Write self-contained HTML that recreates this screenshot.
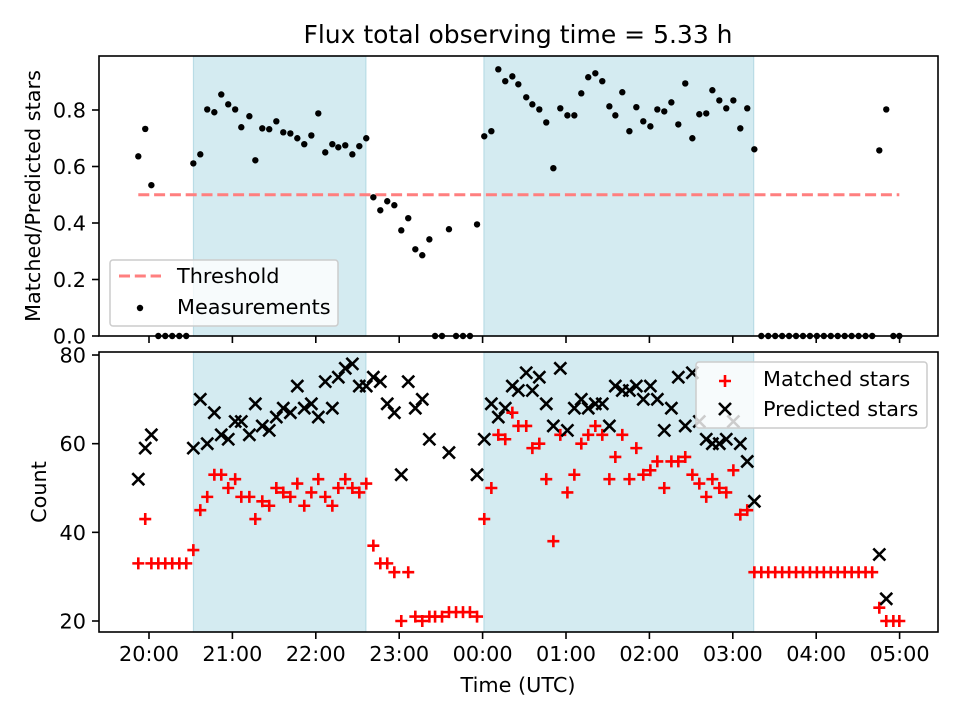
<!DOCTYPE html>
<html><head><meta charset="utf-8"><style>
body{margin:0;background:#fff;}
svg{font-family:"DejaVu Sans","Liberation Sans",sans-serif;display:block}
</style></head><body>
<svg id="chart" width="960" height="720" viewBox="0 0 960 720">
<rect width="960" height="720" fill="#fff"/>
<text x="518" y="43" text-anchor="middle" font-size="25">Flux total observing time = 5.33 h</text>
<g id="gtop"></g>
<g id="gbot"></g>
<text x="518" y="692" text-anchor="middle" font-size="20.8">Time (UTC)</text>
<text transform="translate(40,196) rotate(-90)" text-anchor="middle" font-size="20.8">Matched/Predicted stars</text>
<text transform="translate(46,492) rotate(-90)" text-anchor="middle" font-size="20.8">Count</text>
<g font-size="20.8">
<rect x="110" y="260" width="228" height="66" rx="3" fill="#fff" fill-opacity="0.8" stroke="#ccc" stroke-width="1.5"/>
<line x1="119" x2="161" y1="276" y2="276" stroke="#ff7f7f" stroke-width="3" stroke-dasharray="11,4.8"/>
<text x="177" y="283">Threshold</text>
<circle cx="140" cy="308" r="3.2" fill="#000"/>
<text x="177" y="314">Measurements</text>
</g>
<g font-size="20.8">
<rect x="696" y="362" width="231" height="66" rx="3" fill="#fff" fill-opacity="0.8" stroke="#ccc" stroke-width="1.5"/>
<path d="M719,381H731M725,375V387" stroke="#f00" stroke-width="2.6"/>
<text x="763" y="386">Matched stars</text>
<path d="M719,403L731,415M719,415L731,403" stroke="#000" stroke-width="2.6"/>
<text x="763" y="416">Predicted stars</text>
</g>
</svg>
<script>
// minutes after 20:00 UTC
const times=[-7.7,-2.7,1.7,6.7,11.7,16.7,21.8,26.8,31.9,36.9,41.9,47,52,57,62,66.4,72.2,76.5,81.5,86.5,91.6,96.6,101.7,106.7,111.7,116.8,121.8,126.8,131.9,136.2,141.2,146.3,151.3,156.3,161.4,166.4,171.4,176.5,181.5,186.5,191.6,196.6,201.7,205.8,210.8,215.8,220.9,225.9,230.9,236,241.2,246.3,251.3,256.3,261.4,265.7,271.4,275.8,280.8,285.8,290.9,295.9,301,306,311,316,321.1,326.1,331.2,335.5,340.5,345.6,350.6,355.6,360.7,365.7,370.7,375.8,380.8,385.8,390.9,395.9,400.9,405.3,410.3,415.3,420.4,425.4,430.4,435.5,440.5,445.5,450.5,455.5,460.5,465.5,470.5,475.5,480.5,485.5,490.5,495.5,500.5,505.5,510.5,515.5,520.3,525.4,530.4,535.5,539.8];
const ratio=[.636,.733,.534,0,0,0,0,0,.611,.643,.802,.792,.855,.820,.802,.739,.778,.622,.735,.732,.760,.721,.717,.700,.679,.710,.788,.650,.679,.668,.675,.643,.672,.700,.491,.445,.477,.463,.374,.417,.307,.286,.342,0,0,.378,0,0,0,.395,.707,.725,.944,.902,.919,.891,.845,.820,.802,.756,.594,.806,.781,.781,.859,.916,.930,.902,.813,.781,.863,.725,.810,.760,.742,.802,.795,.827,.749,.894,.700,.785,.788,.870,.834,.806,.834,.735,.806,.661,0,0,0,0,0,0,0,0,0,0,0,0,0,0,0,0,0,.657,.802,0,0];
const matched=[33,43,33,33,33,33,33,33,36,45,48,53,53,50,52,48,48,43,47,46,50,49,48,51,46,49,52,48,46,50,52,50,49,51,37,33,33,31,20,31,21,20,21,21,21,22,22,22,22,21,43,50,62,61,67,64,64,59,60,52,38,62,49,53,60,62,64,62,52,57,62,52,59,53,54,56,50,56,56,57,53,51,48,52,50,49,54,44,45,31,31,31,31,31,31,31,31,31,31,31,31,31,31,31,31,31,31,23,20,20,20];
const predicted=[52,59,62,null,null,null,null,null,59,70,60,67,62,61,65,65,62,69,64,63,66,68,67,73,68,69,66,74,68,75,77,78,73,73,75,74,69,67,53,74,68,70,61,null,null,58,null,null,null,53,61,69,66,68,73,72,76,72,75,69,64,77,63,68,70,68,69,69,64,73,72,72,73,70,73,70,63,68,75,64,76,65,61,60,60,61,65,60,56,47,null,null,null,null,null,null,null,null,null,null,null,null,null,null,null,null,null,35,25,null,null];
const threshold=0.5;
const spans=[[32,156],[241,435]];
const xTickLabels=["20:00","21:00","22:00","23:00","00:00","01:00","02:00","03:00","04:00","05:00"];
const topTicks=[0,0.2,0.4,0.6,0.8];
const botTicks=[20,40,60,80];

const NS="http://www.w3.org/2000/svg";
const X=t=>149+t/60*83.4;
const L=99,R=938;
const T1=56,B1=336,T2=352,B2=632;
const Y1=v=>336-v*282.5;
const Y2=c=>621-(c-20)*4.433;
function mk(p,tag,a){const e=document.createElementNS(NS,tag);for(const k in a)e.setAttribute(k,a[k]);p.appendChild(e);return e;}
const gTop=document.getElementById('gtop'),gBot=document.getElementById('gbot');

[[gTop,T1,B1],[gBot,T2,B2]].forEach(([g,t,b])=>{
  spans.forEach(s=>{
    const r=mk(g,'rect',{x:X(s[0]),y:t,width:X(s[1])-X(s[0]),height:b-t,fill:'#d4ebf1',stroke:'#b9dce6','stroke-width':1.2});
    
    
  });
});

const th=mk(gTop,'line',{x1:X(times[0]),x2:X(times[times.length-1]),y1:Y1(threshold),y2:Y1(threshold),stroke:'#ff7f7f','stroke-width':3,'stroke-dasharray':'11,4.8'});



times.forEach((t,i)=>{
  const c=mk(gTop,'circle',{cx:X(t),cy:Y1(ratio[i]),r:3.2,fill:'#000'});
  
  
  const x=X(t),ym=Y2(matched[i]);
  const p=mk(gBot,'path',{d:`M${x-6},${ym}H${x+6}M${x},${ym-6}V${ym+6}`,stroke:'#f00','stroke-width':2.6});
  
  
  if(predicted[i]!==null){
    const yp=Y2(predicted[i]);
    const q=mk(gBot,'path',{d:`M${x-6},${yp-6}L${x+6},${yp+6}M${x-6},${yp+6}L${x+6},${yp-6}`,stroke:'#000','stroke-width':2.6});
    
    
  }
});

[[gTop,T1,B1],[gBot,T2,B2]].forEach(([g,t,b],k)=>{
  const f=mk(g,'rect',{x:L,y:t,width:R-L,height:b-t,fill:'none',stroke:'#000','stroke-width':1.6});
  
  
  xTickLabels.forEach((lab,i)=>{
    const x=X(i*60);
    const tk=mk(g,'line',{x1:x,x2:x,y1:b,y2:b+7,stroke:'#000','stroke-width':1.6});
    
    
    if(k===1){const tx=mk(g,'text',{x:x,y:b+29,'text-anchor':'middle','font-size':20.8});tx.textContent=lab;
      
      }
  });
});
topTicks.forEach(v=>{
  const y=Y1(v);
  const tk=mk(gTop,'line',{x1:L-7,x2:L,y1:y,y2:y,stroke:'#000','stroke-width':1.6});
  
  
  const tx=mk(gTop,'text',{x:L-13,y:y+7.5,'text-anchor':'end','font-size':20.8});tx.textContent=v.toFixed(1);
  
  
});
botTicks.forEach(v=>{
  const y=Y2(v);
  const tk=mk(gBot,'line',{x1:L-7,x2:L,y1:y,y2:y,stroke:'#000','stroke-width':1.6});
  
  
  const tx=mk(gBot,'text',{x:L-13,y:y+7.5,'text-anchor':'end','font-size':20.8});tx.textContent=v;
  
  
});
</script>
</body></html>
